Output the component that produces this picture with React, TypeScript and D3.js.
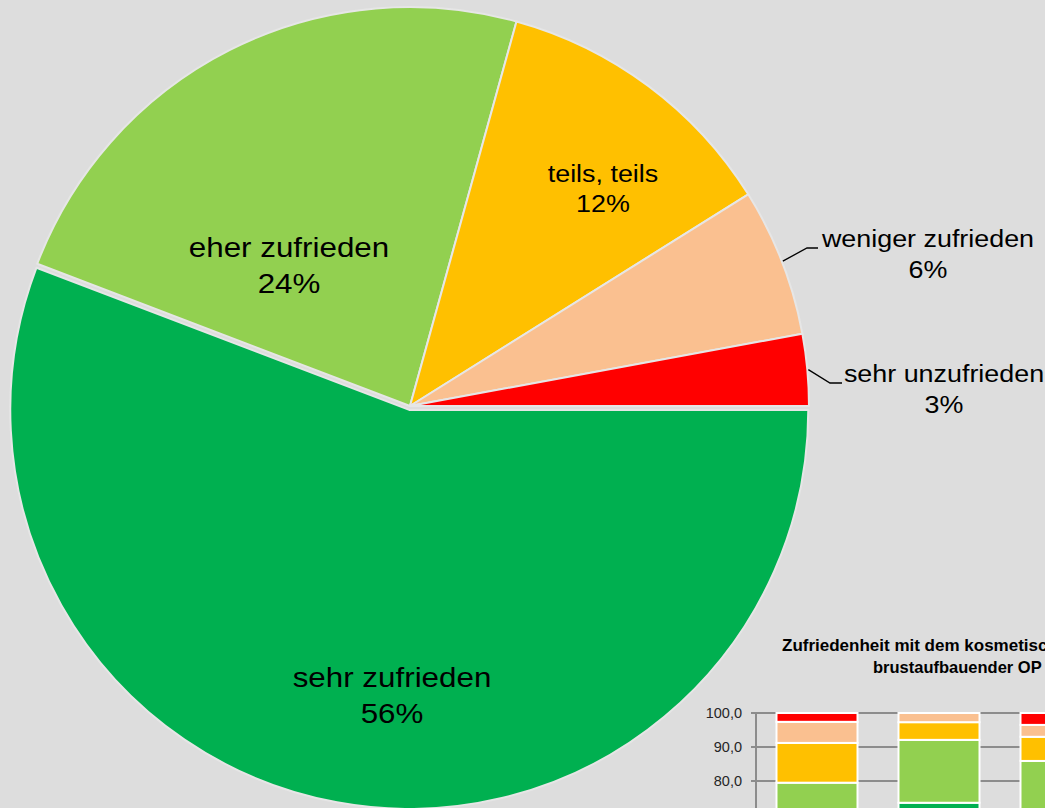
import React from 'react';
import * as d3 from 'd3';

// ---- Pie data ----
const categories = ['sehr zufrieden', 'eher zufrieden', 'teils, teils', 'weniger zufrieden', 'sehr unzufrieden'];
const shares = [55.8, 23.5, 11.8, 6.0, 2.9];
const colors = ['#00B050', '#92D050', '#FFC000', '#FAC090', '#FF0000'];

// ---- Inset (stacked bars, partly visible) ----
const insetTitle = ['Zufriedenheit mit dem kosmetischen Ergebnis', 'brustaufbauender OP'];
const insetGroups = ['G1', 'G2', 'G3', 'G4'];
const insetSehrZufrieden = [55.8, 73.6, 66.0, 0];
const insetEherZufrieden = [23.7, 18.5, 19.9, 0];
const insetTeils = [11.7, 5.2, 7.1, 0];
const insetWeniger = [6.2, 2.7, 3.5, 0];
const insetSehrUnzufrieden = [2.6, 0, 3.5, 0];
const insetTicks = [0, 10, 20, 30, 40, 50, 60, 70, 80, 90, 100];

// ---- layout ----
const W = 1045;
const H = 808;
const BG = '#dddddd';
const CX = 410;
const CY = 406;
const R = 399;
const EXPLODE = [4, 0, 0, 0, 0];

const labelLayout = [
  { x: 392, y: 687, size: 28, gap: 36 },
  { x: 289, y: 257, size: 28, gap: 36 },
  { x: 603, y: 182, size: 24, gap: 30 },
  { x: 928, y: 247, size: 24, gap: 31 },
  { x: 944, y: 382, size: 24, gap: 31 },
];
const leaderLayout: ({ ex: number; ey: number; hx: number } | null)[] = [
  null,
  null,
  null,
  { ex: 807, ey: 248, hx: 818 },
  { ex: 830, ey: 383, hx: 842 },
];

export default function App() {
  const pie = d3
    .pie<number>()
    .sort(null)
    .value((d) => d)
    .startAngle(Math.PI / 2)
    .endAngle(Math.PI / 2 + 2 * Math.PI);
  const arcs = pie(shares);
  const arcGen = d3.arc<d3.PieArcDatum<number>>().innerRadius(0).outerRadius(R);

  // inset scales
  const y = d3.scaleLinear().domain([0, 100]).range([1053, 713]);
  const x = d3
    .scaleBand<string>()
    .domain(insetGroups)
    .range([756, 756 + 122 * insetGroups.length])
    .paddingInner(0.336)
    .paddingOuter(0.168);
  const stackRows = insetGroups.map((g, i) => ({
    g,
    s0: insetSehrZufrieden[i],
    s1: insetEherZufrieden[i],
    s2: insetTeils[i],
    s3: insetWeniger[i],
    s4: insetSehrUnzufrieden[i],
  }));
  const stack = d3.stack<any>().keys(['s0', 's1', 's2', 's3', 's4'])(stackRows);
  const fmt = (v: number) => v.toFixed(1).replace('.', ',');

  return (
    <svg
      width={W}
      height={H}
      style={{ position: 'absolute', left: 0, top: 0, background: BG, overflow: 'hidden' }}
      fontFamily="'Liberation Sans', Arial, sans-serif"
    >
      <rect x={0} y={0} width={W} height={H} fill={BG} />
      {/* pie */}
      <g>
        {arcs.map((a, i) => {
          const mid = (a.startAngle + a.endAngle) / 2;
          const dx = Math.sin(mid) * EXPLODE[i];
          const dy = -Math.cos(mid) * EXPLODE[i];
          return (
            <path
              key={i}
              d={arcGen(a) || ''}
              transform={`translate(${CX + dx},${CY + dy})`}
              fill={colors[i]}
              stroke="#e6e6e6"
              strokeWidth={2}
              strokeLinejoin="round"
            />
          );
        })}
      </g>
      {/* leader lines */}
      {arcs.map((a, i) => {
        const l = leaderLayout[i];
        if (!l) return null;
        const mid = (a.startAngle + a.endAngle) / 2;
        const sx = CX + Math.sin(mid) * (R + 1);
        const sy = CY - Math.cos(mid) * (R + 1);
        return (
          <polyline
            key={'l' + i}
            points={`${sx},${sy} ${l.ex},${l.ey} ${l.hx},${l.ey}`}
            fill="none"
            stroke="#000"
            strokeWidth={1.3}
          />
        );
      })}
      {/* labels */}
      {arcs.map((a, i) => {
        const lp = labelLayout[i];
        const pct = Math.round(shares[i]) + '%';
        return (
          <g key={'t' + i} fill="#000" fontSize={lp.size} textAnchor="middle">
            <text transform={`translate(${lp.x},${lp.y}) scale(1.12,1)`}>{categories[i]}</text>
            <text transform={`translate(${lp.x},${lp.y + lp.gap}) scale(1.12,1)`}>{pct}</text>
          </g>
        );
      })}

      {/* inset chart */}
      <g>
        <text x={782} y={651} fontSize={17} fontWeight="bold" fill="#000">
          {insetTitle[0]}
        </text>
        <text x={873} y={673} fontSize={16.5} fontWeight="bold" fill="#000">
          {insetTitle[1]}
        </text>
        {insetTicks.map((t) => (
          <g key={'g' + t}>
            <line x1={751} x2={W} y1={y(t)} y2={y(t)} stroke="#8c8c8c" strokeWidth={2} />
            {y(t) + 5 <= H ? (
              <text x={742} y={y(t) + 5} fontSize={14.5} textAnchor="end" fill="#262626">
                {fmt(t)}
              </text>
            ) : null}
          </g>
        ))}
        <line x1={756} x2={756} y1={y(100)} y2={y(0)} stroke="#8c8c8c" strokeWidth={2} />
        {stack.map((layer, li) => (
          <g key={'s' + li} fill={colors[li]}>
            {layer.map((d, gi) =>
              d[1] - d[0] > 0 ? (
                <rect
                  key={gi}
                  x={x(insetGroups[gi])}
                  width={x.bandwidth()}
                  y={y(d[1])}
                  height={y(d[0]) - y(d[1])}
                  stroke="#fff"
                  strokeWidth={2}
                />
              ) : null
            )}
          </g>
        ))}
      </g>
    </svg>
  );
}
